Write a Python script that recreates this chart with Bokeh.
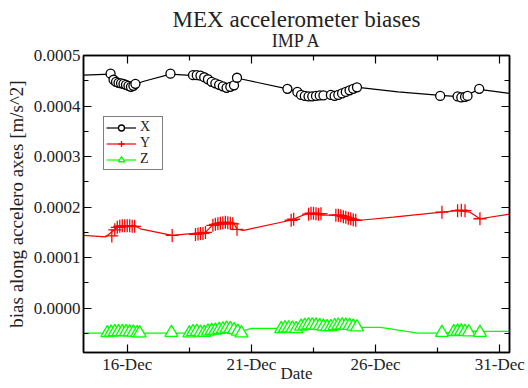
from bokeh.plotting import figure
from bokeh.models import (Range1d, FixedTicker, LinearAxis, Title, Legend,
                          LegendItem, PrintfTickFormatter)
from bokeh.embed import file_html
from bokeh.resources import INLINE

FONT = "Liberation Serif"

# ---- axes / ticks ----
tick_days = [16, 21, 26, 31]
tick_labels = ["16-Dec", "21-Dec", "26-Dec", "31-Dec"]
minor_days = [13.5, 18.5, 23.5, 28.5]
y_ticks = [0.0, 0.0001, 0.0002, 0.0003, 0.0004, 0.0005]
y_minor = [-0.00005, 0.00005, 0.00015, 0.00025, 0.00035, 0.00045]
x_start, x_end = 14.24, 31.39
y_start, y_end = -0.0000877, 0.0005

# ---- X bias (black circles) ----
x_days = [15.33, 15.45, 15.55, 15.65, 15.75, 15.85, 15.95, 16.05, 16.15, 16.25, 16.33,
          17.74, 18.65, 18.8, 18.95, 19.1, 19.25, 19.4, 19.55, 19.7, 19.85, 20.0, 20.15,
          20.3, 20.42, 22.45, 22.85, 23.0, 23.15, 23.3, 23.45, 23.6, 23.75, 23.9, 24.2,
          24.35, 24.5, 24.65, 24.8, 24.95, 25.1, 25.25, 28.6, 29.3, 29.45, 29.6, 29.7, 30.17]
x_bias = [0.000464, 0.000452, 0.000448, 0.000446, 0.000445, 0.000444, 0.000442, 0.000440,
          0.000438, 0.000440, 0.000444, 0.000464, 0.000461, 0.000461, 0.000460, 0.000457,
          0.000453, 0.000448, 0.000445, 0.000442, 0.000439, 0.000436, 0.000438, 0.000441,
          0.000456, 0.000434, 0.000428, 0.000422, 0.000420, 0.000419, 0.000419, 0.000420,
          0.000421, 0.000421, 0.000422, 0.000420, 0.000422, 0.000425, 0.000428, 0.000431,
          0.000434, 0.000437, 0.000420, 0.000419, 0.000417, 0.000418, 0.000420, 0.000434]
x_fit_days = [14.24, 15.33, 15.6, 16.0, 16.3, 16.6, 17.74, 18.7, 19.0, 19.5, 20.0, 20.3,
              20.45, 21.2, 22.45, 22.85, 23.3, 23.9, 24.4, 25.3, 26.9, 28.6, 29.5, 30.17, 31.39]
x_fit_bias = [0.000461, 0.000463, 0.000450, 0.000442, 0.000441, 0.000448, 0.000463,
              0.000460, 0.000459, 0.000447, 0.000437, 0.000440, 0.000455, 0.000447,
              0.000434, 0.000428, 0.000421, 0.000421, 0.000421, 0.000437, 0.000428,
              0.000421, 0.000418, 0.000433, 0.000425]

# ---- Y bias (red plus) ----
y_days = [15.38, 15.5, 15.6, 15.7, 15.8, 15.9, 16.0, 16.1, 16.2, 16.3, 17.81, 18.75, 18.85,
          18.95, 19.05, 19.15, 19.45, 19.55, 19.65, 19.75, 19.85, 19.95, 20.05, 20.15, 20.25,
          20.42, 22.6, 22.7, 23.3, 23.4, 23.5, 23.6, 23.7, 23.8, 24.4, 24.5, 24.6, 24.7, 24.8,
          24.9, 25.0, 25.1, 25.2, 28.67, 29.3, 29.45, 29.6, 30.2]
y_bias = [0.000143, 0.000155, 0.000160, 0.000162, 0.000163, 0.000163, 0.000163, 0.000163,
          0.000162, 0.000162, 0.000144, 0.000146, 0.000147, 0.000148, 0.000148, 0.000150,
          0.000164, 0.000166, 0.000167, 0.000168, 0.000169, 0.000170, 0.000169, 0.000168,
          0.000167, 0.000156, 0.000174, 0.000176, 0.000186, 0.000188, 0.000188, 0.000187,
          0.000186, 0.000187, 0.000184, 0.000184, 0.000183, 0.000181, 0.000180, 0.000178,
          0.000177, 0.000175, 0.000174, 0.000190, 0.000193, 0.000194, 0.000193, 0.000177]
y_fit_days = [14.24, 15.13, 15.6, 16.33, 16.53, 17.81, 18.68, 19.15, 19.42, 20.29, 20.42,
              20.69, 22.57, 23.24, 23.84, 24.38, 25.25, 25.38, 26.71, 28.67, 29.27, 29.8,
              30.2, 31.39]
y_fit_bias = [0.000144, 0.000141, 0.000160, 0.000162, 0.000157, 0.000144, 0.000148,
              0.000150, 0.000164, 0.000168, 0.000156, 0.000154, 0.000174, 0.000187,
              0.000184, 0.000184, 0.000174, 0.000174, 0.000180, 0.000190, 0.000193,
              0.000190, 0.000177, 0.000186]

# ---- Z bias (green triangles) ----
z_days = [15.2, 15.35, 15.5, 15.65, 15.8, 15.95, 16.1, 16.25, 16.4, 16.5, 17.78, 18.5,
          18.65, 18.8, 18.95, 19.1, 19.25, 19.4, 19.55, 19.7, 19.85, 20.0, 20.15, 20.3,
          20.45, 20.6, 22.2, 22.35, 22.5, 22.65, 22.8, 23.0, 23.15, 23.3, 23.45, 23.6,
          23.75, 23.9, 24.05, 24.2, 24.35, 24.5, 24.65, 24.8, 24.95, 25.1, 25.25, 28.67,
          29.15, 29.3, 29.45, 29.6, 29.75, 30.2]
z_bias = [-0.000049, -0.000048, -0.000047, -0.000047, -0.000047, -0.000047, -0.0000475,
          -0.000048, -0.000049, -0.0000495, -0.0000485, -0.0000495, -0.000047, -0.0000465,
          -0.000048, -0.0000485, -0.000046, -0.0000445, -0.000044, -0.0000425, -0.0000415,
          -0.000040, -0.000041, -0.000043, -0.000046, -0.0000495, -0.000041, -0.0000395,
          -0.0000395, -0.000040, -0.000041, -0.000036, -0.0000345, -0.0000335, -0.0000335,
          -0.000034, -0.000035, -0.000036, -0.000037, -0.000037, -0.000035, -0.000034,
          -0.0000335, -0.000034, -0.0000345, -0.000036, -0.0000375, -0.0000485, -0.000047,
          -0.000046, -0.0000455, -0.0000465, -0.0000475, -0.0000485]
z_fit_days = [14.24, 16.5, 18.0, 19.5, 20.6, 21.0, 22.0, 22.2, 23.0, 24.0, 25.3, 26.2,
              27.7, 28.67, 29.2, 30.0, 30.2, 31.39]
z_fit_bias = [-0.0000495, -0.0000495, -0.0000495, -0.000049, -0.000046, -0.000040,
              -0.000040, -0.000038, -0.000038, -0.000036, -0.000038, -0.000038,
              -0.0000495, -0.0000495, -0.000047, -0.0000455, -0.000046, -0.000046]

p = figure(width=528, height=388, output_backend="svg", toolbar_location=None,
           x_range=Range1d(x_start, x_end), y_range=Range1d(y_start, y_end),
           min_border_left=83, min_border_right=19, min_border_top=55,
           min_border_bottom=36, title=None)
p.grid.visible = False
p.outline_line_color = "black"
p.outline_line_width = 1.5
p.background_fill_color = "white"
p.border_fill_color = "white"

xt = FixedTicker(ticks=tick_days, minor_ticks=minor_days)
yt = FixedTicker(ticks=y_ticks, minor_ticks=y_minor)

xax = p.xaxis[0]
yax = p.yaxis[0]
xax.ticker = xt
yax.ticker = yt
xax.major_label_overrides = {d: l for d, l in zip(tick_days, tick_labels)}
yax.formatter = PrintfTickFormatter(format="%.4f")
xax.axis_label = "Date"
yax.axis_label = "bias along accelero axes [m/s^2]"

# mirrored tick axes (no labels drawn)
top_ax = LinearAxis(ticker=xt, major_label_text_font_size="1px",
                    major_label_text_color=None, major_label_standoff=3)
right_ax = LinearAxis(ticker=yt, major_label_text_font_size="1px",
                      major_label_text_color=None, major_label_standoff=0)
p.add_layout(top_ax, "above")
p.add_layout(right_ax, "right")

for ax in (xax, yax, top_ax, right_ax):
    ax.major_tick_in = 8
    ax.major_tick_out = 0
    ax.minor_tick_in = 5
    ax.minor_tick_out = 0
    ax.axis_line_width = 1.5
    ax.axis_line_color = "black"
    ax.major_tick_line_color = "black"
    ax.minor_tick_line_color = "black"
    ax.major_tick_line_width = 1.2
    ax.minor_tick_line_width = 1.2

for ax in (xax, yax):
    ax.major_label_text_font = FONT
    ax.axis_label_text_font = FONT
    ax.axis_label_text_font_style = "normal"
    ax.major_label_text_color = "#222222"
    ax.axis_label_text_color = "#222222"
    ax.major_label_text_font_size = "17px"
xax.axis_label_text_font_size = "17px"
xax.major_label_standoff = 2
xax.axis_label_standoff = -13
yax.major_label_standoff = 3
yax.axis_label_standoff = 4
yax.axis_label_text_font_size = "19px"

sub = Title(text="IMP A", align="center", text_font=FONT, text_font_size="18px",
            text_font_style="normal", text_color="#222222", standoff=10)
main = Title(text="MEX accelerometer biases", align="center", text_font=FONT,
             text_font_size="23px", text_font_style="normal", text_color="#222222",
             standoff=-16)
p.add_layout(sub, "above")
p.add_layout(main, "above")

# data
lx = p.line(x_fit_days, x_fit_bias, line_color="black", line_width=1.2)
sx = p.scatter(x_days, x_bias, marker="circle", size=9, line_color="black",
               fill_color="white", line_width=1.3)
ly = p.line(y_fit_days, y_fit_bias, line_color="#ff0000", line_width=1.2)
sy = p.scatter(y_days, y_bias, marker="cross", size=13, line_color="#ff0000",
               line_width=1.3)
lz = p.line(z_fit_days, z_fit_bias, line_color="#00ff00", line_width=1.2)
sz = p.scatter(z_days, z_bias, marker="triangle", size=13, line_color="#00ff00",
               fill_color="white", line_width=1.3)

legend = Legend(items=[LegendItem(label="X", renderers=[lx, sx]),
                       LegendItem(label="Y", renderers=[ly, sy]),
                       LegendItem(label="Z", renderers=[lz, sz])],
                location=(20, 182), margin=0, padding=2, spacing=0,
                glyph_width=30, glyph_height=15, label_height=15,
                label_standoff=4, label_text_font=FONT, label_text_font_size="14px",
                label_text_color="#222222", border_line_color="black",
                border_line_width=1.2, background_fill_alpha=1.0)
p.add_layout(legend, "center")

open("out.html", "w").write(file_html(p, INLINE))
